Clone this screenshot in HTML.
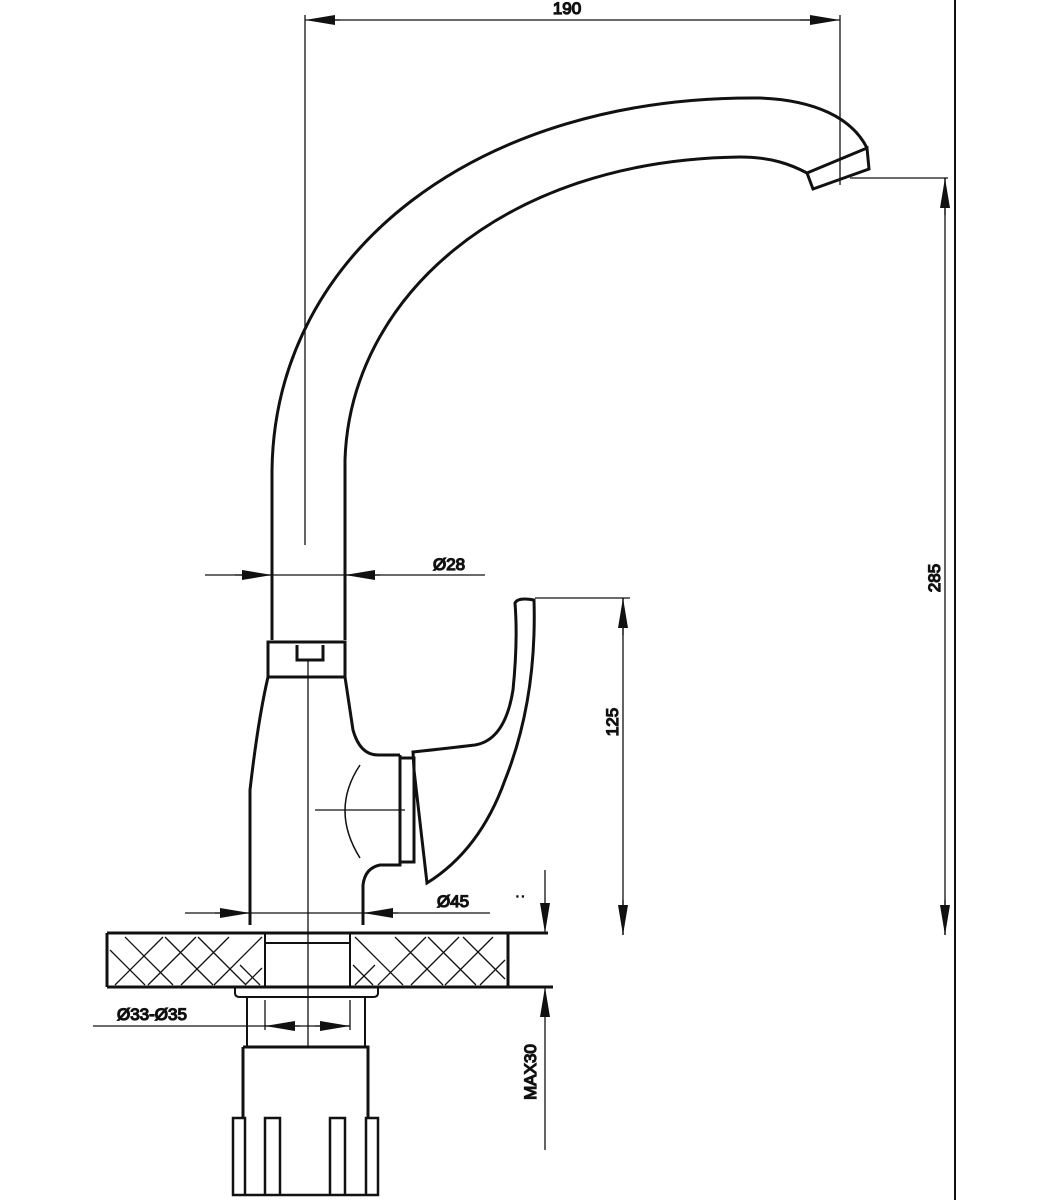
<!DOCTYPE html>
<html><head><meta charset="utf-8"><style>
html,body{margin:0;padding:0;background:#fff;width:1050px;height:1200px;overflow:hidden}
text{font-family:"Liberation Sans",Arial,sans-serif;font-size:17px;fill:#111}
</style></head><body>
<svg width="1050" height="1200" viewBox="0 0 1050 1200" xmlns="http://www.w3.org/2000/svg">
<defs>
<marker id="a" viewBox="0 0 30 10" refX="30" refY="5" markerWidth="30" markerHeight="10" markerUnits="userSpaceOnUse" orient="auto"><path d="M0,0 L30,5 L0,10 Z" fill="#111"/></marker>
</defs>
<g stroke="#111" fill="none" stroke-width="1.3">
<!-- border -->
<line x1="955" y1="0" x2="955" y2="1200" stroke-width="2"/>
<!-- 190 -->
<line x1="305" y1="15" x2="305" y2="545"/>
<line x1="840" y1="15" x2="840" y2="185"/>
<line x1="340" y1="20" x2="305" y2="20" marker-end="url(#a)"/>
<line x1="800" y1="20" x2="840" y2="20" marker-end="url(#a)"/>
<line x1="330" y1="20" x2="810" y2="20"/>
<!-- 285 -->
<line x1="850" y1="178" x2="948" y2="178"/>
<line x1="945" y1="178" x2="945" y2="935"/>
<line x1="945" y1="215" x2="945" y2="178" marker-end="url(#a)"/>
<line x1="945" y1="900" x2="945" y2="935" marker-end="url(#a)"/>
<!-- spout -->
<g stroke-width="3">
<path d="M272,640 L272,470 C275,250 480,95 760,98 C815,100 852,118 867,148"/>
<path d="M345,640 L345,460 C350,300 500,160 740,157 C772,157 792,165 807,173"/>
<path d="M807,173 L867,148 L869,169 L813,189 Z"/>
<!-- ring -->
<path d="M268,642 L345,642 L345,677 L268,677 Z"/>
<path d="M297,645 L297,660 L323,660 L323,645"/>
<!-- body -->
<path d="M268,677 Q258,720 250,790 L250,925"/>
<path d="M345,677 L353,730 Q360,755 378,755 L400,755"/>
<path d="M400,755 L400,865 L380,865 Q365,868 363,885 L363,925"/>
<path d="M400,758 L414,758 L414,862 L400,862"/>
<path d="M360,765 Q330,810 360,858" stroke-width="1.5"/>
<!-- handle -->
<path d="M413,752 Q450,748 475,745 Q505,740 513,690 Q518,640 515,603 Q518,597 534,600 Q537,700 505,780 Q480,850 427,883 Q420,820 414,770 Z"/>
<!-- countertop -->
<path d="M107,933 L548,933 M107,987 L553,987 M107,933 L107,987 M508,933 L508,987"/>
<path d="M265,933 L265,987 M350,933 L350,987 M265,943 L350,943" stroke-width="2"/>
<!-- washer, pipe, nut -->
<path d="M235,987 L235,993 Q235,997 240,997 L373,997 Q378,997 378,993 L378,987" stroke-width="2"/>
<path d="M247,997 L247,1047 M365,997 L365,1047" stroke-width="2"/>
<path d="M243,1047 L368,1047 L368,1118 M243,1047 L243,1118" stroke-width="3"/>
<path d="M233,1118 L245,1118 L245,1195 L233,1195 Z M265,1118 L280,1118 L280,1195 L265,1195 Z M330,1118 L345,1118 L345,1195 L330,1195 Z M366,1118 L378,1118 L378,1195 L366,1195 Z M233,1195 L378,1195" stroke-width="2.5"/>
</g>
<!-- hatching -->
<g stroke-width="1.3">
<path d="M110,950 L145,985 M115,985 L163,937 M125,937 L173,985 M148,985 L196,937 M165,937 L213,985 M181,985 L229,937 M198,937 L246,985 M214,985 L262,937 M240,965 L260,985 M245,985 L262,968"/>
<path d="M353,965 L373,985 M355,985 L375,965 M355,937 L403,985 M378,985 L426,937 M395,937 L443,985 M411,985 L459,937 M428,937 L476,985 M445,985 L493,937 M463,937 L505,979 M480,985 L505,960"/>
</g>
<!-- centerline -->
<line x1="308" y1="660" x2="308" y2="1047" stroke-width="1.3"/>
<line x1="315" y1="810" x2="405" y2="810"/>
<!-- Ø28 -->
<line x1="205" y1="575" x2="485" y2="575"/>
<line x1="235" y1="575" x2="272" y2="575" marker-end="url(#a)"/>
<line x1="380" y1="575" x2="345" y2="575" marker-end="url(#a)"/>
<!-- 125 -->
<line x1="535" y1="598" x2="630" y2="598"/>
<line x1="623" y1="598" x2="623" y2="935"/>
<line x1="623" y1="635" x2="623" y2="598" marker-end="url(#a)"/>
<line x1="623" y1="900" x2="623" y2="935" marker-end="url(#a)"/>
<!-- Ø45 -->
<line x1="185" y1="913" x2="490" y2="913"/>
<line x1="215" y1="913" x2="250" y2="913" marker-end="url(#a)"/>
<line x1="398" y1="913" x2="363" y2="913" marker-end="url(#a)"/>
<!-- MAX30 -->
<line x1="545" y1="870" x2="545" y2="933" marker-end="url(#a)"/>
<line x1="545" y1="1150" x2="545" y2="987" marker-end="url(#a)"/>
<!-- Ø33-Ø35 -->
<line x1="93" y1="1026" x2="350" y2="1026"/>
<line x1="265" y1="1000" x2="265" y2="1030"/>
<line x1="350" y1="1000" x2="350" y2="1030"/>
<line x1="300" y1="1026" x2="265" y2="1026" marker-end="url(#a)"/>
<line x1="315" y1="1026" x2="350" y2="1026" marker-end="url(#a)"/>
<text x="567" y="14" text-anchor="middle">190</text>
<text x="433" y="570">Ø28</text>
<text x="437" y="907">Ø45</text>
<text x="117" y="1020">Ø33-Ø35</text>
<text x="516" y="897" style="font-size:10px">. .</text>
<text transform="translate(940,578) rotate(-90)" text-anchor="middle">285</text>
<text transform="translate(618,722) rotate(-90)" text-anchor="middle">125</text>
<text transform="translate(536,1072) rotate(-90)" text-anchor="middle">MAX30</text>
</svg>
</body></html>
